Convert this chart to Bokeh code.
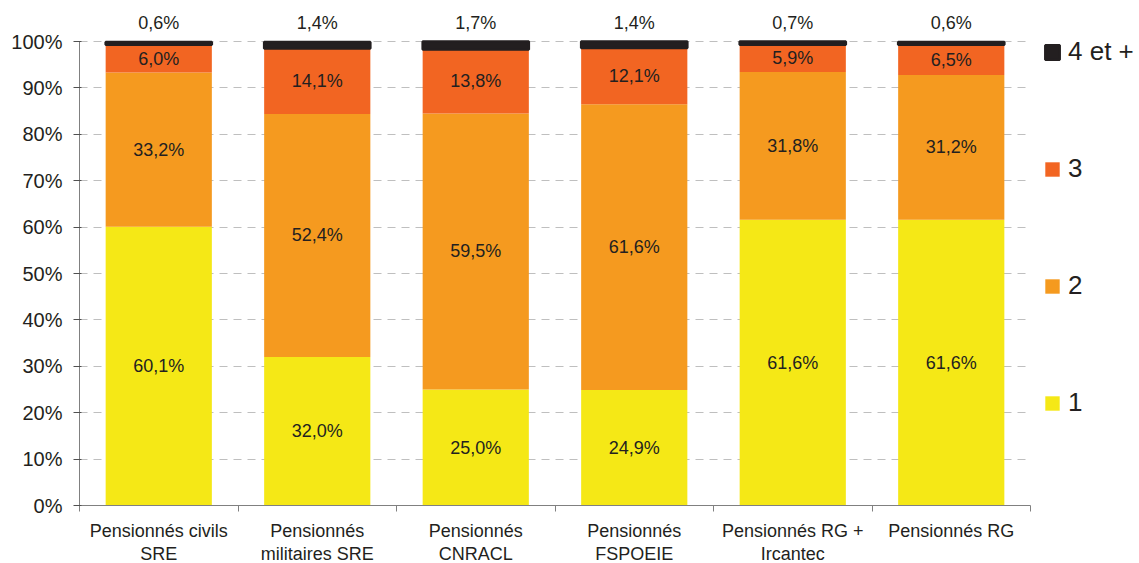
from bokeh.plotting import figure
from bokeh.models import ColumnDataSource, FixedTicker, Legend, LegendItem, LabelSet
from bokeh.core.properties import value
from bokeh.embed import file_html
from bokeh.resources import INLINE

categories = ["Pensionnés civils\nSRE", "Pensionnés\nmilitaires SRE", "Pensionnés\nCNRACL",
              "Pensionnés\nFSPOEIE", "Pensionnés RG +\nIrcantec", "Pensionnés RG"]
s1 = [60.1, 32.0, 25.0, 24.9, 61.6, 61.6]
s2 = [33.2, 52.4, 59.5, 61.6, 31.8, 31.2]
s3 = [6.0, 14.1, 13.8, 12.1, 5.9, 6.5]
s4 = [0.6, 1.4, 1.7, 1.4, 0.7, 0.6]
series_names = ["1", "2", "3", "4 et +"]
colors = ["#F5E816", "#F59A1F", "#F26522", "#231F20"]
yticks = list(range(0, 101, 10))

FONT = "Liberation Sans"
TXT = "#231F20"

x = [i + 0.5 for i in range(len(categories))]
def fmt(v):
    return ("%.1f%%" % v).replace(".", ",")

data = dict(x=x)
bottoms = [0.0] * len(x)
series = [s1, s2, s3, s4]
for k, s in enumerate(series):
    top = [b + v for b, v in zip(bottoms, s)]
    data["b%d" % k] = bottoms
    data["t%d" % k] = top
    data["m%d" % k] = [(b + t) / 2 for b, t in zip(bottoms, top)]
    data["l%d" % k] = [fmt(v) for v in s]
    bottoms = top
src = ColumnDataSource(data)

y_end = 100 * 495 / 464
p = figure(frame_width=951, frame_height=495, x_range=(0, 6), y_range=(0, y_end),
           output_backend="svg", toolbar_location=None,
           min_border_left=79, min_border_top=10, min_border_bottom=5, min_border_right=5)
p.outline_line_color = None
p.background_fill_color = "white"

renderers = []
for k in range(4):
    r = p.vbar(x="x", bottom="b%d" % k, top="t%d" % k, width=0.67, source=src,
               fill_color=colors[k], line_color=colors[k] if k == 3 else None,
               line_width=2.5 if k == 3 else 0)
    renderers.append(r)

for k in range(3):
    lab = LabelSet(x="x", y="m%d" % k, text="l%d" % k, source=src,
                   text_align="center", text_baseline="middle",
                   text_font=value(FONT), text_font_size=value("18px"), text_color=TXT)
    p.add_layout(lab)
lab = LabelSet(x="x", y="t3", text="l3", source=src, y_offset=9,
               text_align="center", text_baseline="bottom",
               text_font=value(FONT), text_font_size=value("18px"), text_color=TXT)
p.add_layout(lab)

# y axis
p.yaxis.ticker = FixedTicker(ticks=yticks)
p.yaxis.major_label_overrides = {t: "%d%%" % t for t in yticks}
p.yaxis.bounds = (0, 100)
p.yaxis.axis_line_color = "#808080"
p.yaxis.major_tick_line_color = "#505050"
p.yaxis.major_tick_out = 6
p.yaxis.major_tick_in = 2
p.yaxis.minor_tick_line_color = None
p.yaxis.major_label_text_font = FONT
p.yaxis.major_label_text_font_size = "20px"
p.yaxis.major_label_text_color = TXT
p.yaxis.major_label_standoff = 11

# x axis
p.xaxis.ticker = FixedTicker(ticks=x, minor_ticks=list(range(0, 7)))
p.xaxis.major_label_overrides = {xx: c for xx, c in zip(x, categories)}
p.xaxis.axis_line_color = "#808080"
p.xaxis.major_tick_line_color = None
p.xaxis.minor_tick_line_color = "#808080"
p.xaxis.minor_tick_out = 6
p.xaxis.minor_tick_in = 0
p.xaxis.major_label_text_font = FONT
p.xaxis.major_label_text_font_size = "18px"
p.xaxis.major_label_text_line_height = 1.15
p.xaxis.major_label_text_color = TXT
p.xaxis.major_label_standoff = 9

p.xgrid.grid_line_color = None
p.ygrid.ticker = FixedTicker(ticks=yticks[1:])
p.ygrid.grid_line_color = "#BFBFBF"
p.ygrid.grid_line_dash = "8 6"
p.ygrid.level = "underlay"

items = [LegendItem(label=series_names[k], renderers=[renderers[k]]) for k in [3, 2, 1, 0]]
legend = Legend(items=items, location=(13, 87), orientation="vertical",
                glyph_width=18, glyph_height=18, label_standoff=7,
                label_text_font=FONT, label_text_font_size="26px", label_text_color=TXT,
                spacing=86, padding=0, margin=0, border_line_color=None,
                background_fill_alpha=0)
p.add_layout(legend, "right")

open("out.html", "w").write(file_html(p, INLINE))
